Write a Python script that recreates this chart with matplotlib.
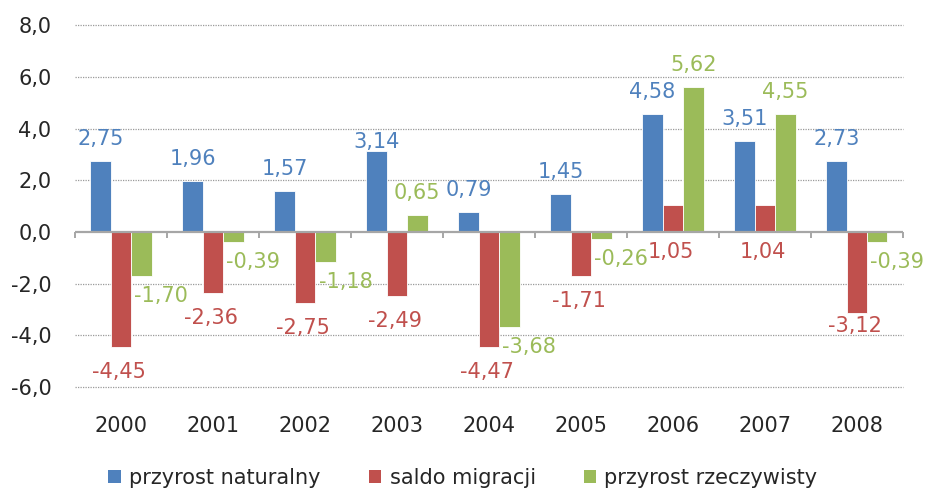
import matplotlib.pyplot as plt
import numpy as np
from matplotlib.patches import Patch

plt.rcParams['font.family'] = 'DejaVu Sans'

years = ['2000', '2001', '2002', '2003', '2004', '2005', '2006', '2007', '2008']
przyrost_naturalny = [2.75, 1.96, 1.57, 3.14, 0.79, 1.45, 4.58, 3.51, 2.73]
saldo_migracji = [-4.45, -2.36, -2.75, -2.49, -4.47, -1.71, 1.05, 1.04, -3.12]
przyrost_rzeczywisty = [-1.70, -0.39, -1.18, 0.65, -3.68, -0.26, 5.62, 4.55, -0.39]
y_ticks = [-6, -4, -2, 0, 2, 4, 6, 8]

names = ['przyrost naturalny', 'saldo migracji', 'przyrost rzeczywisty']
colors = ['#4F81BD', '#C0504D', '#9BBB59']


def fmt(v, d=2):
    return f"{v:.{d}f}".replace('.', ',')


fig = plt.figure(figsize=(9.26, 4.93), dpi=100)
ax = fig.add_axes([0.081, 0.215, 0.894, 0.734])

x = np.arange(len(years))
w = 0.222
series = [przyrost_naturalny, saldo_migracji, przyrost_rzeczywisty]

for i, (vals, col) in enumerate(zip(series, colors)):
    ax.bar(x + (i - 1) * w, vals, width=w, color=col, edgecolor='white',
           linewidth=0.6, zorder=3)

# value labels (offsets in pixels, Excel-like placement)
for j, v in enumerate(przyrost_naturalny):
    dy = 9 if years[j] == '2003' else 22
    ax.annotate(fmt(v), (x[j] - w, v), xytext=(0, dy), textcoords='offset pixels',
                ha='center', va='center', fontsize=15, color=colors[0], zorder=5)

for j, v in enumerate(saldo_migracji):
    if v >= 0:
        pos, dy = 0, -20
    else:
        pos, dy = v, (-13 if years[j] == '2008' else -25)
    ax.annotate(fmt(v), (x[j], pos), xytext=(-2, dy), textcoords='offset pixels',
                ha='center', va='center', fontsize=15, color=colors[1], zorder=5)

for j, v in enumerate(przyrost_rzeczywisty):
    if v >= 0:
        off = (0, 22)
    else:
        off = (20, -20)
    ax.annotate(fmt(v), (x[j] + w, v), xytext=off, textcoords='offset pixels',
                ha='center', va='center', fontsize=15, color=colors[2], zorder=5)

ax.set_xlim(-0.5, len(years) - 0.5)
ax.set_ylim(-6, 8)
ax.set_yticks(y_ticks)
ax.set_yticklabels([fmt(t, 1) for t in y_ticks])
ax.set_xticks(x)
ax.set_xticklabels(years)
ax.tick_params(axis='both', length=0, labelsize=15, colors='#262626')
ax.tick_params(axis='x', pad=21)
ax.tick_params(axis='y', pad=17)

for t in y_ticks:
    if t != 0:
        ax.axhline(t, linestyle=(0, (1, 1)), color='#9a9a9a', linewidth=0.9,
                   zorder=0, clip_on=False)
for s in ax.spines.values():
    s.set_visible(False)

# zero line with category boundary ticks
ax.axhline(0, color='#a6a6a6', linewidth=1.6, zorder=4)
bounds = np.arange(len(years) + 1) - 0.5
ax.vlines(bounds, -0.24, 0, color='#a6a6a6', linewidth=1.4, zorder=4, clip_on=False)

handles = [Patch(facecolor=c, edgecolor='none') for c in colors]
fig.legend(handles, names, loc='center', bbox_to_anchor=(0.5, 0.03), ncol=3,
           frameon=False, fontsize=15, handlelength=0.6, handleheight=0.6,
           handletextpad=0.4, columnspacing=2.3, labelcolor='#262626',
           borderpad=0.1)

fig.savefig('out.png', dpi=100)
